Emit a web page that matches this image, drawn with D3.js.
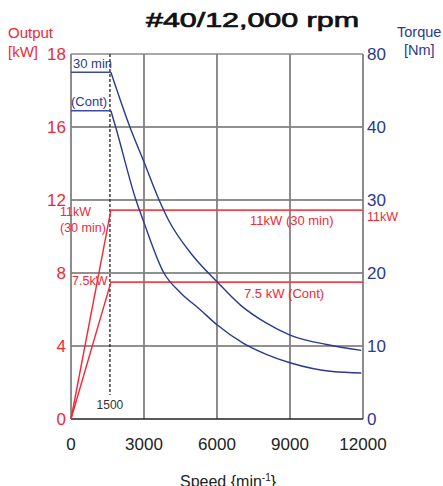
<!DOCTYPE html>
<html><head><meta charset="utf-8">
<script src="https://cdn.jsdelivr.net/npm/d3@7"></script>
<style>
body{margin:0;background:#fff}
svg{display:block}
text{font-family:"Liberation Sans",Arial,Helvetica,sans-serif}
</style>
</head><body><svg id="c" width="443" height="486"></svg>
<script>
// ---- data ----
const speedTicks = [0, 3000, 6000, 9000, 12000];
const outputTicks = [0, 4, 8, 12, 16, 18];
const torqueTicks = [0, 10, 20, 30, 40, 80];
const baseSpeed = 1600;

const speed30  = [0, 1640, 2420, 3000, 3620, 4000, 5000, 6000, 7000, 8000, 9000, 10500, 11930];
const torque30 = [70, 70, 40, 35.2, 30, 27.3, 22.4, 18.8, 15.5, 13.2, 11.5, 10.2, 9.4];

const speedCont  = [0, 1640, 1835, 2670, 3000, 3820, 4500, 5300, 6000, 7070, 8000, 9000, 10750, 11930];
const torqueCont = [48.9, 48.9, 40, 30, 26.9, 20, 17.3, 15, 12.9, 10.4, 8.9, 7.7, 6.5, 6.3];

const powerSpeed = [0, 1640, 12000];
const power30    = [0, 11.45, 11.45];
const powerCont  = [0, 7.5, 7.5];

// ---- layout ----
const svg = d3.select("#c");
const pLeft = 71, pRight = 363, pTop = 54, pBottom = 419;
const RED = "#ee2a35", BLUE = "#2b3990", DARK = "#222";

const x = d3.scaleLinear().domain([0, 12000]).range([pLeft, pRight]);
const band = (pBottom - pTop) / (outputTicks.length - 1);
const yRange = outputTicks.map((d, i) => pBottom - i * band);
const yL = d3.scaleLinear().domain(outputTicks).range(yRange);
const yR = d3.scaleLinear().domain(torqueTicks).range(yRange);

// horizontal grid
svg.append("g").selectAll("line").data(outputTicks.slice(1, -1)).join("line")
  .attr("x1", pLeft).attr("x2", pRight)
  .attr("y1", d => yL(d)).attr("y2", d => yL(d))
  .attr("stroke", DARK).attr("stroke-width", 1.1);
// top line
svg.append("line").attr("x1", pLeft).attr("x2", pRight).attr("y1", pTop).attr("y2", pTop)
  .attr("stroke", "#555").attr("stroke-width", 1.1);
// vertical grid
svg.append("g").selectAll("line").data(speedTicks).join("line")
  .attr("x1", d => x(d)).attr("x2", d => x(d))
  .attr("y1", pTop).attr("y2", pBottom)
  .attr("stroke", "#808080").attr("stroke-width", 1.8);
// bottom axis
svg.append("line").attr("x1", pLeft).attr("x2", pRight).attr("y1", pBottom).attr("y2", pBottom)
  .attr("stroke", DARK).attr("stroke-width", 1.4);

// dashed base speed line
svg.append("line").attr("x1", x(baseSpeed)).attr("x2", x(baseSpeed))
  .attr("y1", pTop).attr("y2", 395)
  .attr("stroke", "#222").attr("stroke-width", 1.3).attr("stroke-dasharray", "3,2");
svg.append("text").attr("x", x(baseSpeed)).attr("y", 409).attr("text-anchor", "middle")
  .attr("font-size", 12).attr("fill", "#333").text("1500");

// power lines
const pLine = d3.line().x(d => x(d[0])).y(d => yL(d[1]));
[power30, powerCont].forEach(p => {
  const pts = powerSpeed.map((s, i) => [s, p[i]]);
  svg.append("path").attr("d", pLine(pts.slice(0, 2))).attr("fill", "none")
    .attr("stroke", RED).attr("stroke-width", 1.4);
  svg.append("path").attr("d", pLine(pts.slice(1))).attr("fill", "none")
    .attr("stroke", "#f04550").attr("stroke-width", 1.8);
});

// torque curves
const tFlat = d3.line().x(d => x(d[0])).y(d => yR(d[1]));
const tCurve = d3.line().x(d => x(d[0])).y(d => yR(d[1])).curve(d3.curveMonotoneX);
[[speed30, torque30], [speedCont, torqueCont]].forEach(([s, t]) => {
  const pts = s.map((v, i) => [v, t[i]]);
  svg.append("path").attr("d", tFlat(pts.slice(0, 2))).attr("fill", "none")
    .attr("stroke", "#3d4aa0").attr("stroke-width", 1.6);
  svg.append("path").attr("d", tCurve(pts.slice(1))).attr("fill", "none")
    .attr("stroke", BLUE).attr("stroke-width", 1.4);
});

// tick labels
svg.append("g").selectAll("text").data(outputTicks).join("text")
  .attr("x", 66).attr("y", d => yL(d)).attr("dy", "0.36em").attr("text-anchor", "end")
  .attr("font-size", 17).attr("fill", RED).text(d => d);
svg.append("g").selectAll("text").data(torqueTicks).join("text")
  .attr("x", 367).attr("y", d => yR(d)).attr("dy", "0.36em").attr("text-anchor", "start")
  .attr("font-size", 17).attr("fill", BLUE).text(d => d);
svg.append("g").selectAll("text").data(speedTicks).join("text")
  .attr("x", d => x(d)).attr("y", 450).attr("text-anchor", "middle")
  .attr("font-size", 17).attr("fill", DARK).text(d => d);

// axis titles
svg.append("text").attr("x", 8).attr("y", 38).attr("font-size", 15).attr("fill", RED).text("Output");
svg.append("text").attr("x", 8).attr("y", 57).attr("font-size", 15).attr("fill", RED).text("[kW]");
svg.append("text").attr("x", 397).attr("y", 37).attr("font-size", 14.5).attr("fill", BLUE).text("Torque");
svg.append("text").attr("x", 404).attr("y", 55).attr("font-size", 14.5).attr("fill", BLUE).text("[Nm]");
const sp = svg.append("text").attr("x", 180).attr("y", 487).attr("font-size", 16).attr("fill", DARK);
sp.append("tspan").text("Speed {min");
sp.append("tspan").attr("dy", -6).attr("font-size", 10).text("-1");
sp.append("tspan").attr("dy", 6).text("}");

// title
svg.append("text").attr("x", 146).attr("y", 27).attr("font-size", 20)
  .attr("fill", "#111").attr("stroke", "#111").attr("stroke-width", 0.7)
  .attr("textLength", 213).attr("lengthAdjust", "spacingAndGlyphs")
  .text("#40/12,000 rpm");

// annotations
const ann = (t, xx, yy, c, fs) => svg.append("text").attr("x", xx).attr("y", yy)
  .attr("font-size", fs || 13).attr("fill", c).text(t);
ann("30 min", 73, 68, BLUE);
ann("(Cont)", 71, 106, BLUE);
ann("11kW", 60, 216, RED, 12.5);
ann("(30 min)", 60, 232, RED, 12.5);
ann("7.5kW", 72, 285, RED, 12.5);
ann("11kW (30 min)", 250, 225, RED);
ann("11kW", 367, 221, RED, 12.5);
ann("7.5 kW (Cont)", 244, 298, RED);
</script>
</body></html>
